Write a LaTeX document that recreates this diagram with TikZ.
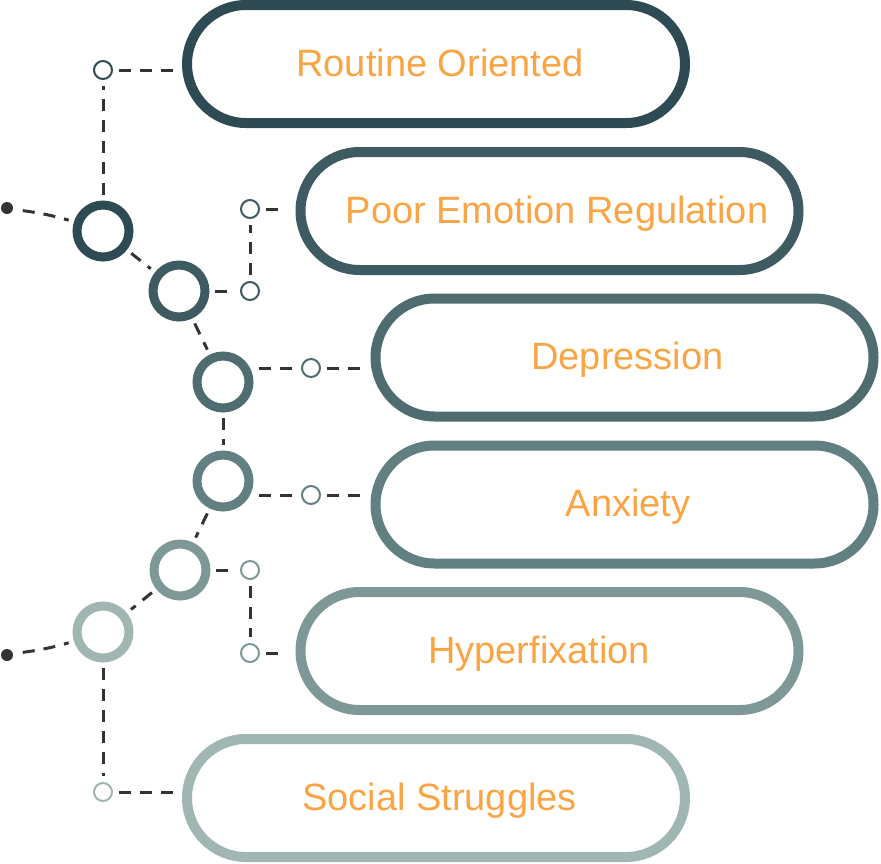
\documentclass[tikz,border=0pt]{standalone}
\usepackage{fontspec}
\setmainfont{Liberation Sans}
\usetikzlibrary{shapes.misc}
\definecolor{tone1}{HTML}{2E4A53}
\definecolor{tone2}{HTML}{3D5B61}
\definecolor{tone3}{HTML}{4F6D70}
\definecolor{tone4}{HTML}{628081}
\definecolor{tone5}{HTML}{7D9897}
\definecolor{tone6}{HTML}{A0B6B3}
\definecolor{label}{HTML}{FAA443}
\definecolor{ink}{HTML}{333333}
\tikzset{
  ring/.style={circle,draw=#1,line width=9pt,minimum size=52pt,inner sep=0pt,outer sep=10pt},
  knot/.style={circle,draw=#1,line width=2pt,fill=white,minimum size=18pt,inner sep=0pt,outer sep=7pt},
  pill/.style={rounded rectangle,draw=#1,line width=10pt,minimum width=498pt,minimum height=118pt,
    inner sep=0pt,outer sep=14pt,text=label,text height=30pt,text depth=6pt,font=\fontsize{38}{45}\selectfont},
  link/.style={draw=ink,line width=3pt,dash pattern=on 12pt off 9pt},
  tip/.style={circle,fill=ink,minimum size=12pt,inner sep=0pt,outer sep=10pt}
}
\begin{document}
\begin{tikzpicture}[x=1pt,y=-1pt]
  \useasboundingbox (0,0) rectangle (881,863);
  % pills, \d shifts the text
  \foreach \i/\x/\y/\d/\t in {1/436/64/8/Routine Oriented,2/549.5/211/15/Poor Emotion Regulation,
    3/624.5/357.5/6/Depression,4/624.5/504.5/7/Anxiety,5/549.5/651/-21/Hyperfixation,6/436/798/7/Social Struggles}
    \node[pill=tone\i] (p\i) at (\x,\y) {\hspace*{\d pt}\t};
  % rings on the chain
  \foreach \i/\x/\y in {1/103/231,2/179/291,3/223/382,4/223/481,5/180/570,6/103/632}
    \node[ring=tone\i] (c\i) at (\x,\y) {};
  % small joints
  \node[knot=tone1] (s1) at (103,70) {};
  \node[knot=tone2] (s2) at (250,209) {};
  \node[knot=tone2] (s3) at (250,291) {};
  \node[knot=tone3] (s4) at (311,368) {};
  \node[knot=tone4] (s5) at (311,495) {};
  \node[knot=tone5] (s6) at (250,570) {};
  \node[knot=tone5] (s7) at (250,653) {};
  \node[knot=tone6] (s8) at (103,792) {};
  \node[tip] (d1) at (7,208) {};
  \node[tip] (d2) at (7,655) {};
  % chain
  \draw[link] (d1) to[bend left=4] (c1);
  \draw[link] (c1) -- (c2);
  \draw[link] (c2) -- (c3);
  \draw[link] (c3) -- (c4);
  \draw[link] (c4) -- (c5);
  \draw[link] (c5) -- (c6);
  \draw[link] (d2) to[bend right=4] (c6);
  % branches
  \draw[link] (c1) -- (s1);
  \draw[link] (s1) -- (s1 -| p1.west);
  \draw[link] (c2) -- (s3);
  \draw[link] (s3) -- (s2);
  \draw[link] (s2) -- (s2 -| p2.west);
  \draw[link] (s4 -| c3.east) -- (s4);
  \draw[link] (s4) -- (s4 -| p3.west);
  \draw[link] (s5 -| c4.east) -- (s5);
  \draw[link] (s5) -- (s5 -| p4.west);
  \draw[link] (c5) -- (s6);
  \draw[link] (s6) -- (s7);
  \draw[link] (s7) -- (s7 -| p5.west);
  \draw[link] (c6) -- (s8);
  \draw[link] (s8) -- (s8 -| p6.west);
\end{tikzpicture}
\end{document}
